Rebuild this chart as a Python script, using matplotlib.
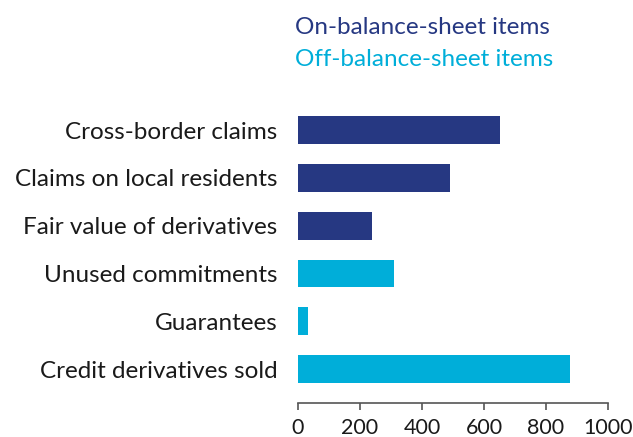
import matplotlib
matplotlib.use("Agg")
import matplotlib.pyplot as plt

# data (USD bn, roughly)
categories = ["Cross-border claims", "Claims on local residents",
              "Fair value of derivatives", "Unused commitments",
              "Guarantees", "Credit derivatives sold"]
values = [653, 490, 239, 310, 33, 879]
groups = ["on", "on", "on", "off", "off", "off"]
xticks = [0, 200, 400, 600, 800, 1000]

NAVY = "#263882"
CYAN = "#00aed9"
colours = {"on": NAVY, "off": CYAN}

plt.rcParams["font.family"] = ["Lato", "DejaVu Sans"]

fig = plt.figure(figsize=(6.33, 4.37), dpi=100)
ax = fig.add_axes([298 / 633, 1 - 403 / 437, 310 / 633, 303 / 437])

ypos = list(range(len(categories)))
ax.barh(ypos, values, height=0.58, color=[colours[g] for g in groups])

ax.set_xlim(0, 1000)
ax.set_ylim(len(categories) - 1 + 0.71, -0.628)
ax.set_yticks(ypos)
ax.set_yticklabels(categories, fontsize=17.5, color="#1a1a1a")
ax.tick_params(axis="y", length=0, pad=15)
ax.set_xticks(xticks)
ax.set_xticklabels([str(t) for t in xticks], fontsize=15.5, color="#1a1a1a")
ax.tick_params(axis="x", length=5, width=1.2, color="#555555", pad=6)

for side in ["top", "right", "left"]:
    ax.spines[side].set_visible(False)
ax.spines["bottom"].set_color("#555555")
ax.spines["bottom"].set_linewidth(1.2)

# legend as plain coloured text
fig.text(295 / 633, 1 - 27 / 437, "On-balance-sheet items", color=NAVY,
         fontsize=17.5, va="center", ha="left")
fig.text(295 / 633, 1 - 60 / 437, "Off-balance-sheet items", color=CYAN,
         fontsize=17.5, va="center", ha="left")

fig.savefig("out.png", dpi=100)
